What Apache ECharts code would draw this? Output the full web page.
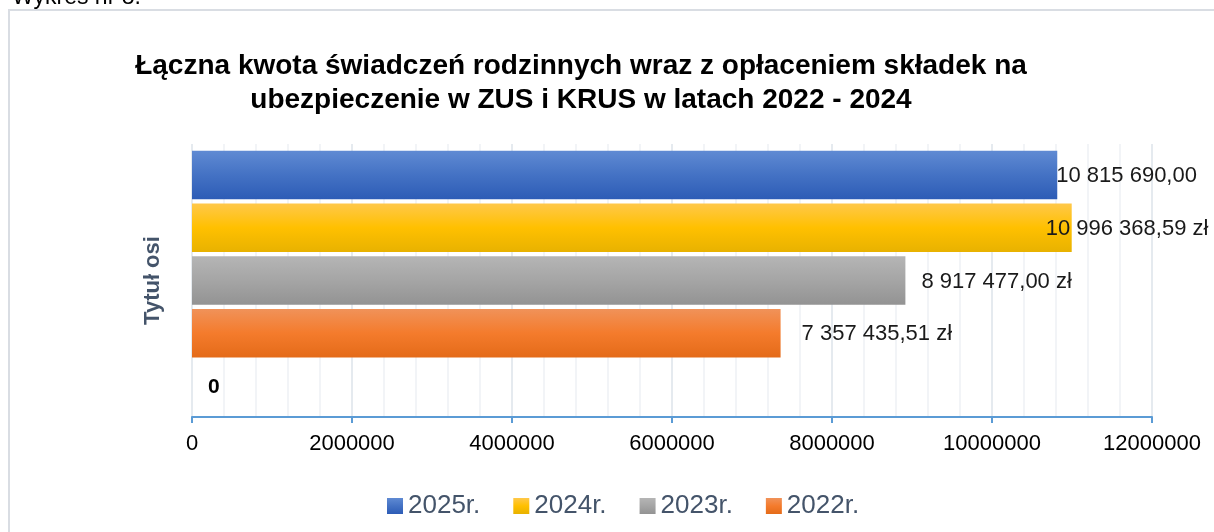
<!DOCTYPE html>
<html>
<head>
<meta charset="utf-8">
<script src="https://cdn.jsdelivr.net/npm/echarts@6/dist/echarts.min.js"></script>
<style>
  html, body { margin: 0; padding: 0; background: #fff; }
  #chart { width: 1214px; height: 532px; }
</style>
</head>
<body>
<div id="chart"></div>
<script>
// dane z wykresu
const years = ['2025r.', '2024r.', '2023r.', '2022r.'];
const amounts = [10815690.00, 10996368.59, 8917477.00, 7357435.51];
const amountLabels = ['10 815 690,00', '10 996 368,59 zł', '8 917 477,00 zł', '7 357 435,51 zł'];
const emptyValue = [0];
const categories = [''];
const xTicks = [0, 2000000, 4000000, 6000000, 8000000, 10000000, 12000000];

// kolory (gradient gora -> dol)
const colors = [
  ['#5f8ad3', '#4472c4', '#2d5cb6'],
  ['#ffc84a', '#ffc000', '#e8b200'],
  ['#b5b5b5', '#a5a5a5', '#939393'],
  ['#f09259', '#f47b2c', '#e46b19']
];
// przesuniecie etykiet wzgledem konca slupka
const labelShift = [-1, -26, 16, 21];

let myChart = echarts.init(document.getElementById('chart'));

let series = years.map(function (name, i) {
  return {
    name: name,
    type: 'bar',
    data: [amounts[i]],
    barGap: '9%',
    barCategoryGap: '5%',
    itemStyle: {
      color: new echarts.graphic.LinearGradient(0, 0, 0, 1, [
        { offset: 0, color: colors[i][0] },
        { offset: 0.5, color: colors[i][1] },
        { offset: 1, color: colors[i][2] }
      ])
    },
    label: {
      show: true,
      position: 'right',
      distance: 0,
      offset: [labelShift[i], 1],
      color: '#1a1a1a',
      fontSize: 22,
      fontFamily: 'Liberation Sans',
      formatter: function () { return amountLabels[i]; }
    }
  };
});
series.push({
  name: 'brak',
  type: 'bar',
  data: emptyValue,
  itemStyle: { color: '#ffffff' },
  label: {
    show: true,
    position: 'right',
    distance: 16,
    offset: [0, 1],
    color: '#000',
    fontSize: 21,
    fontWeight: 'bold',
    fontFamily: 'Liberation Sans',
    formatter: '0'
  }
});

let option = {
  animation: false,
  graphic: [
    {
      type: 'rect',
      shape: { x: 9, y: 10, width: 1220, height: 530 },
      style: { fill: 'none', stroke: '#d9dde3', lineWidth: 2 }
    },
    {
      type: 'text',
      x: 12, y: 9,
      style: {
        text: 'Wykres nr 8.',
        fontSize: 23,
        fontFamily: 'Liberation Sans',
        fill: '#000',
        verticalAlign: 'bottom'
      }
    },
    {
      type: 'text',
      x: 581, y: 49,
      style: {
        text: 'Łączna kwota świadczeń rodzinnych wraz z opłaceniem składek na\nubezpieczenie w ZUS i KRUS w latach 2022 - 2024',
        fontSize: 28,
        fontWeight: 'bold',
        fontFamily: 'Liberation Sans',
        fill: '#000',
        align: 'center',
        lineHeight: 34
      }
    }
  ],
  legend: {
    data: years,
    top: 488,
    left: 382,
    itemWidth: 16,
    itemHeight: 16,
    itemGap: 33,
    icon: 'rect',
    textStyle: { color: '#44546a', fontSize: 26, fontFamily: 'Liberation Sans' }
  },
  grid: {
    left: 192,
    right: 62,
    top: 144,
    bottom: 115
  },
  xAxis: {
    type: 'value',
    min: xTicks[0],
    max: xTicks[xTicks.length - 1],
    interval: 2000000,
    axisLine: { show: true, lineStyle: { color: '#5b9bd5', width: 2 } },
    axisTick: { show: true, length: 6, lineStyle: { color: '#5b9bd5', width: 2 } },
    axisLabel: {
      color: '#000',
      fontSize: 22,
      fontFamily: 'Liberation Sans',
      margin: 16,
      formatter: function (v) { return String(v); }
    },
    splitLine: { show: true, lineStyle: { color: '#dde3ea', width: 1.5 } },
    minorTick: { show: false, splitNumber: 5 },
    minorSplitLine: { show: true, lineStyle: { color: '#eef1f5', width: 1.5 } }
  },
  yAxis: {
    type: 'category',
    data: categories,
    name: 'Tytuł osi',
    nameLocation: 'middle',
    nameRotate: 90,
    nameGap: 28,
    nameTextStyle: {
      color: '#44546a',
      fontSize: 22,
      fontWeight: 'bold',
      fontFamily: 'Liberation Sans'
    },
    axisLine: { show: false },
    axisTick: { show: false },
    axisLabel: { show: false },
    splitLine: { show: false }
  },
  series: series
};
myChart.setOption(option);
</script>
</body>
</html>
